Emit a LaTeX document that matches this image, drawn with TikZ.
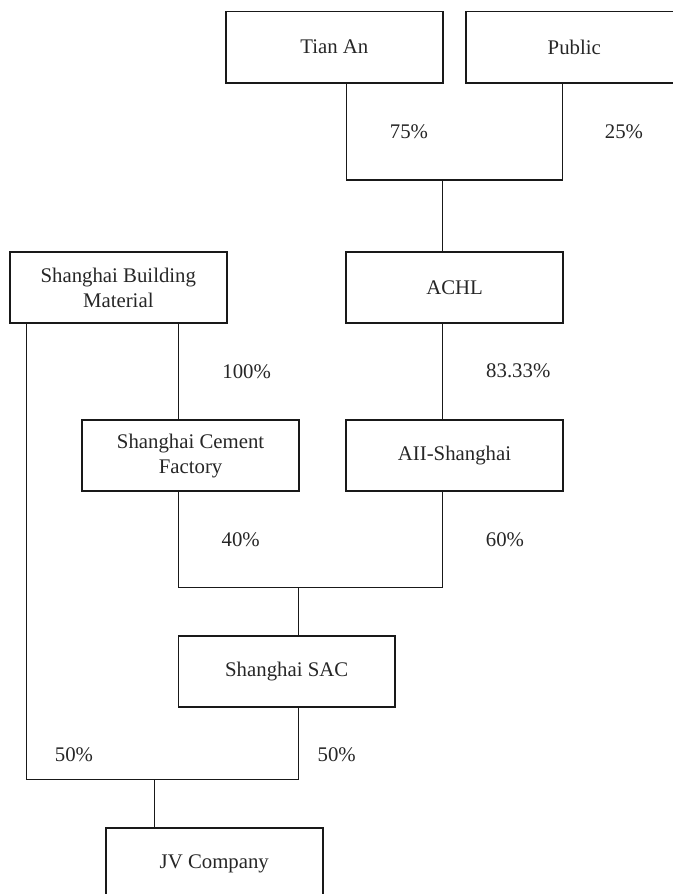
\documentclass[tikz,border=0pt]{standalone}
\usepackage{fontspec}
\setmainfont{Liberation Serif}
\begin{document}
\begin{tikzpicture}[x=0.75pt,y=-0.75pt,
  box/.style={draw=black!90,line width=1.4pt,minimum width=162.4pt,minimum height=53.6pt,inner sep=0pt,align=center,font=\fontsize{15.6}{18.75}\selectfont,text=black!85},
  conn/.style={draw=black!90,line width=1.1pt},
  pct/.style={inner sep=0pt,font=\fontsize{15.6}{18.75}\selectfont,text=black!85}]
\useasboundingbox (0,0) rectangle (673,894);
\clip (0,0) rectangle (673,894);
% boxes
\node[box] (tian) at (334.3,47.2) {Tian An};
\node[box] (pub) at (574.3,47.2) {Public};
\node[box] (sbm) at (118.3,287.5) {Shanghai Building\\Material};
\node[box] (achl) at (454.6,287.5) {ACHL};
\node[box] (scf) at (190.6,455.6) {Shanghai Cement\\Factory};
\node[box] (aii) at (454.5,455.6) {AII-Shanghai};
\node[box] (sac) at (286.7,671.5) {Shanghai SAC};
\node[box] (jv) at (214.3,863.7) {JV Company};
% junction coordinates
\coordinate (m1) at (346.7,180);
\coordinate (m2) at (562.7,180);
\coordinate (m3) at (442.7,180);
\coordinate (s1) at (178.5,0);
\coordinate (s2) at (26.7,779.3);
\coordinate (s3) at (298.3,779.3);
\coordinate (c1) at (178.5,587.7);
\coordinate (c2) at (442.7,587.7);
\coordinate (c3) at (298.3,587.7);
\coordinate (j1) at (154.3,779.3);
% connectors
\draw[conn] (tian.south -| m1) -- (m1) -- (m2) -- (pub.south -| m2);
\draw[conn] (m3) -- (achl.north -| m3);
\draw[conn] (achl.south -| m3) -- (aii.north -| m3);
\draw[conn] (sbm.south -| s1) -- (scf.north -| s1);
\draw[conn] (sbm.south -| s2) -- (s2) -- (s3) -- (sac.south -| s3);
\draw[conn] (scf.south -| c1) -- (c1) -- (c2) -- (aii.south -| c2);
\draw[conn] (c3) -- (sac.north -| c3);
\draw[conn] (j1) -- (jv.north -| j1);
% percentages
\node[pct] (p75) at (409,132) {75\%};
\node[pct] (p25) at (624,132) {25\%};
\node[pct] (p100) at (246.7,372) {100\%};
\node[pct] (p8333) at (518.3,370.7) {83.33\%};
\node[pct] (p40) at (240.7,539.3) {40\%};
\node[pct] (p60) at (505,539.3) {60\%};
\node[pct] (p50a) at (74,755) {50\%};
\node[pct] (p50b) at (336.7,755) {50\%};
\end{tikzpicture}
\end{document}
